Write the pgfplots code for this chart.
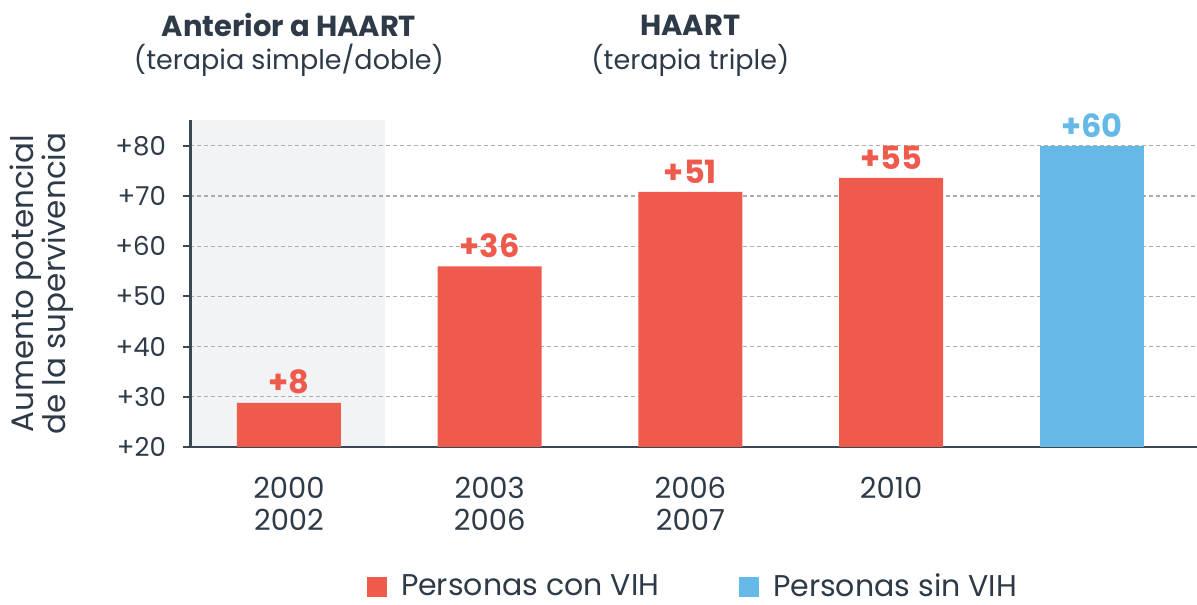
\documentclass[border=0pt]{standalone}
\usepackage{pgfplots}
\pgfplotsset{compat=1.18}
\usepackage{fontspec}
\setmainfont{Poppins}
\definecolor{hivred}{HTML}{EE5B4D}
\definecolor{hivblue}{HTML}{64B9E7}
\definecolor{txt}{HTML}{2E3A47}
\definecolor{axisc}{HTML}{3B4753}
\definecolor{shadec}{HTML}{F2F3F5}
\definecolor{gridc}{HTML}{A8ADB3}
\begin{document}
\begin{tikzpicture}
\begin{axis}[
  set layers,
  scale only axis,
  width=503.5bp, height=163.5bp,
  xmin=-0.493, xmax=4.524, ymin=20, ymax=85.14,
  axis x line*=bottom, axis y line*=left,
  x axis line style={draw=axisc, line width=1bp},
  y axis line style={draw=axisc, line width=1.5bp},
  ybar, bar width=52bp,
  ytick={20,30,...,80}, yticklabels={+20,+30,+40,+50,+60,+70,+80},
  ymajorgrids, grid style={gridc, line width=0.6bp, dash pattern=on 2bp off 1.5bp},
  tick align=outside,
  major tick length=3.5bp,
  y tick style={axisc, line width=1bp},
  xtick={0,1,2,3}, xticklabels={2000\\2002, 2003\\2006, 2006\\2007, 2010},
  x tick style={draw=none},
  xticklabel style={align=center, anchor=north, font=\fontsize{14.5bp}{16bp}\selectfont, text=txt, yshift=-8bp},
  yticklabel style={font=\fontsize{13bp}{14bp}\selectfont, text=txt, xshift=-5bp},
  ylabel={Aumento potencial\\de la supervivencia},
  every axis y label/.style={at={(axis description cs:-0.147,0.5)}, rotate=90, anchor=center, align=center, font=\fontsize{15.5bp}{16bp}\selectfont, text=txt},
  legend style={at={(0.5005,-0.428)}, anchor=center, draw=none, legend columns=2, font=\fontsize{15bp}{16bp}\selectfont, text=txt,
    /tikz/every odd column/.style={column sep=5bp},
    /tikz/every even column/.style={column sep=38bp}},
  legend image code/.code={\fill[#1] (0bp,-5bp) rectangle (10bp,5bp);},
  nodes near coords, point meta=explicit symbolic,
  nodes near coords style={font=\bfseries\fontsize{16bp}{16bp}\selectfont, anchor=south, inner sep=4bp},
  clip=false,
]
\begin{pgfonlayer}{axis background}
\fill[shadec] (axis cs:-0.493,20) rectangle (axis cs:0.48,85.14);
\end{pgfonlayer}
\addplot[fill=hivred, draw=none, bar shift=0pt, every node near coord/.append style={text=hivred}]
  coordinates {(0,28.8) [+8] (1,56.0) [+36] (2,70.8) [+51] (3,73.6) [+55]};
\addlegendentry{Personas con VIH}
\addplot[fill=hivblue, draw=none, bar shift=0pt, every node near coord/.append style={text=hivblue}]
  coordinates {(4,80) [+60]};
\addlegendentry{Personas sin VIH}
\node[font=\bfseries\fontsize{14.5bp}{16bp}\selectfont, text=txt] at (axis cs:0,104) {Anterior a HAART};
\node[font=\fontsize{13.5bp}{16bp}\selectfont, text=txt] at (axis cs:0,97.05) {(terapia simple/doble)};
\node[font=\bfseries\fontsize{14.5bp}{16bp}\selectfont, text=txt] at (axis cs:2,104) {HAART};
\node[font=\fontsize{13.5bp}{16bp}\selectfont, text=txt] at (axis cs:2,97.05) {(terapia triple)};
\coordinate (BL) at (axis description cs:-0.1887,-0.4832);
\coordinate (TR) at (axis description cs:1,1.367);
\end{axis}
\pgfresetboundingbox
\path (BL) rectangle (TR);
\end{tikzpicture}
\end{document}
